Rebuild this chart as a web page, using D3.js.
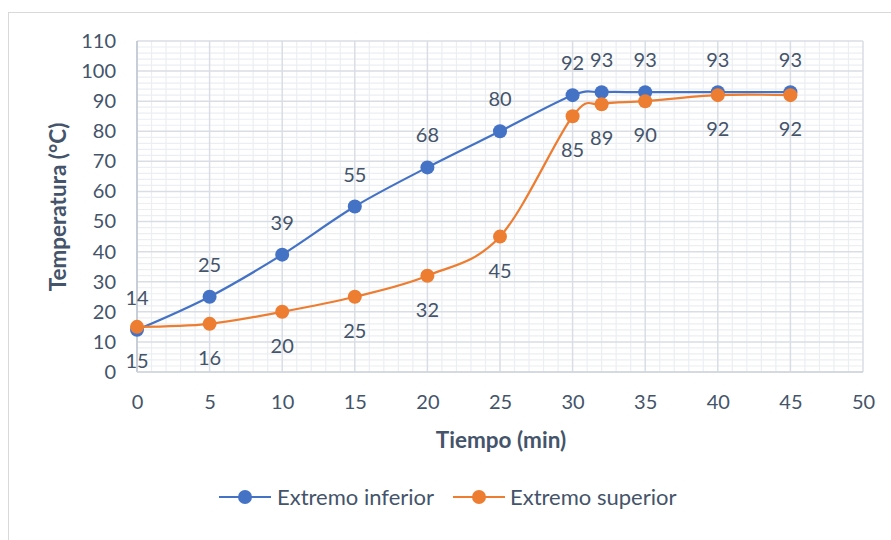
<!DOCTYPE html>
<html><head><meta charset="utf-8">
<script src="https://cdn.jsdelivr.net/npm/d3@7/dist/d3.min.js"></script>
<style>body{margin:0;background:#fff}svg{display:block}text{font-family:Lato,"Open Sans",sans-serif}</style>
</head><body>
<svg id="c" width="891" height="540"></svg>
<script>
const tiempo = [0,5,10,15,20,25,30,32,35,40,45];
const inferior = [14,25,39,55,68,80,92,93,93,93,93];
const superior = [15,16,20,25,32,45,85,89,90,92,92];
const seriesNames = ["Extremo inferior","Extremo superior"];
const xTicks = [0,5,10,15,20,25,30,35,40,45,50];
const yTicks = [0,10,20,30,40,50,60,70,80,90,100,110];

const svg = d3.select("#c");
const textColor = "#44546A";
const colors = ["#4472C4","#ED7D31"];

svg.append("rect").attr("x",8.5).attr("y",12.5).attr("width",950).attr("height",600)
  .attr("fill","#fff").attr("stroke","#d9d9d9");

const x = d3.scaleLinear().domain([0,50]).range([137,863]);
const y = d3.scaleLinear().domain([0,110]).range([372,41]);

const g = svg.append("g");
// minor grid
g.selectAll(".mx").data(d3.range(0,51,1).filter(v=>v%5)).join("line")
  .attr("x1",d=>x(d)).attr("x2",d=>x(d)).attr("y1",y(0)).attr("y2",y(110))
  .attr("stroke","#eceef2").attr("stroke-width",1.2);
g.selectAll(".my").data(d3.range(0,111,2).filter(v=>v%10)).join("line")
  .attr("y1",d=>y(d)).attr("y2",d=>y(d)).attr("x1",x(0)).attr("x2",x(50))
  .attr("stroke","#eceef2").attr("stroke-width",1.2);
// major grid
g.selectAll(".Mx").data(xTicks).join("line")
  .attr("x1",d=>x(d)).attr("x2",d=>x(d)).attr("y1",y(0)).attr("y2",y(110))
  .attr("stroke","#d9dee6").attr("stroke-width",1.5);
g.selectAll(".My").data(yTicks).join("line")
  .attr("y1",d=>y(d)).attr("y2",d=>y(d)).attr("x1",x(0)).attr("x2",x(50))
  .attr("stroke","#d9dee6").attr("stroke-width",1.5);
// axis lines
g.append("line").attr("x1",x(0)).attr("x2",x(0)).attr("y1",y(0)).attr("y2",y(110))
  .attr("stroke","#bfc6d2").attr("stroke-width",1.5);
g.append("line").attr("x1",x(0)).attr("x2",x(50)).attr("y1",y(0)).attr("y2",y(0))
  .attr("stroke","#d0d5de").attr("stroke-width",1.5);

// axes tick labels via d3 axes
const xAxis = svg.append("g").attr("transform",`translate(0,${y(0)})`)
  .call(d3.axisBottom(x).tickValues(xTicks).tickSize(0).tickPadding(23));
const yAxis = svg.append("g").attr("transform",`translate(${x(0)},0)`)
  .call(d3.axisLeft(y).tickValues(yTicks).tickSize(0).tickPadding(21));
[xAxis,yAxis].forEach(a=>{
  a.select(".domain").remove();
  a.selectAll("text").attr("fill",textColor).style("font-size","20px").style("font-family","Lato");
});

// axis titles
svg.append("text").attr("x",501).attr("y",448).attr("text-anchor","middle")
  .attr("fill",textColor).style("font-size","22.5px").style("font-weight","bold").text("Tiempo (min)");
svg.append("text").attr("transform","translate(66,207) rotate(-90)").attr("text-anchor","middle")
  .attr("fill",textColor).style("font-size","22.5px").style("font-weight","bold").text("Temperatura (°C)");

const line = d3.line().x(d=>x(d[0])).y(d=>y(d[1])).curve(d3.curveCardinal.tension(0));
const data = [inferior, superior].map(s=>tiempo.map((t,i)=>[t,s[i]]));

data.forEach((pts,k)=>{
  svg.append("path").datum(pts).attr("d",line).attr("fill","none")
    .attr("stroke",colors[k]).attr("stroke-width",2.2);
  svg.selectAll(".pt"+k).data(pts).join("circle")
    .attr("cx",d=>x(d[0])).attr("cy",d=>y(d[1])).attr("r",7).attr("fill",colors[k]);
});
data.forEach((pts,k)=>{
  svg.selectAll(".lb"+k).data(pts).join("text")
    .attr("x",d=>x(d[0])).attr("y",d=>k===0 ? y(d[1])-25 : y(d[1])+41)
    .attr("text-anchor","middle").attr("fill",textColor).style("font-size","20px")
    .text(d=>d[1]);
});

// legend
const leg = [{x0:219,tx:277},{x0:453,tx:510}];
leg.forEach((l,k)=>{
  svg.append("line").attr("x1",l.x0).attr("x2",l.x0+52).attr("y1",497).attr("y2",497)
    .attr("stroke",colors[k]).attr("stroke-width",2.2);
  svg.append("circle").attr("cx",l.x0+26).attr("cy",497).attr("r",7).attr("fill",colors[k]);
  svg.append("text").attr("x",l.tx).attr("y",505).attr("fill",textColor)
    .style("font-size","22px").text(seriesNames[k]);
});
</script>
</body></html>
